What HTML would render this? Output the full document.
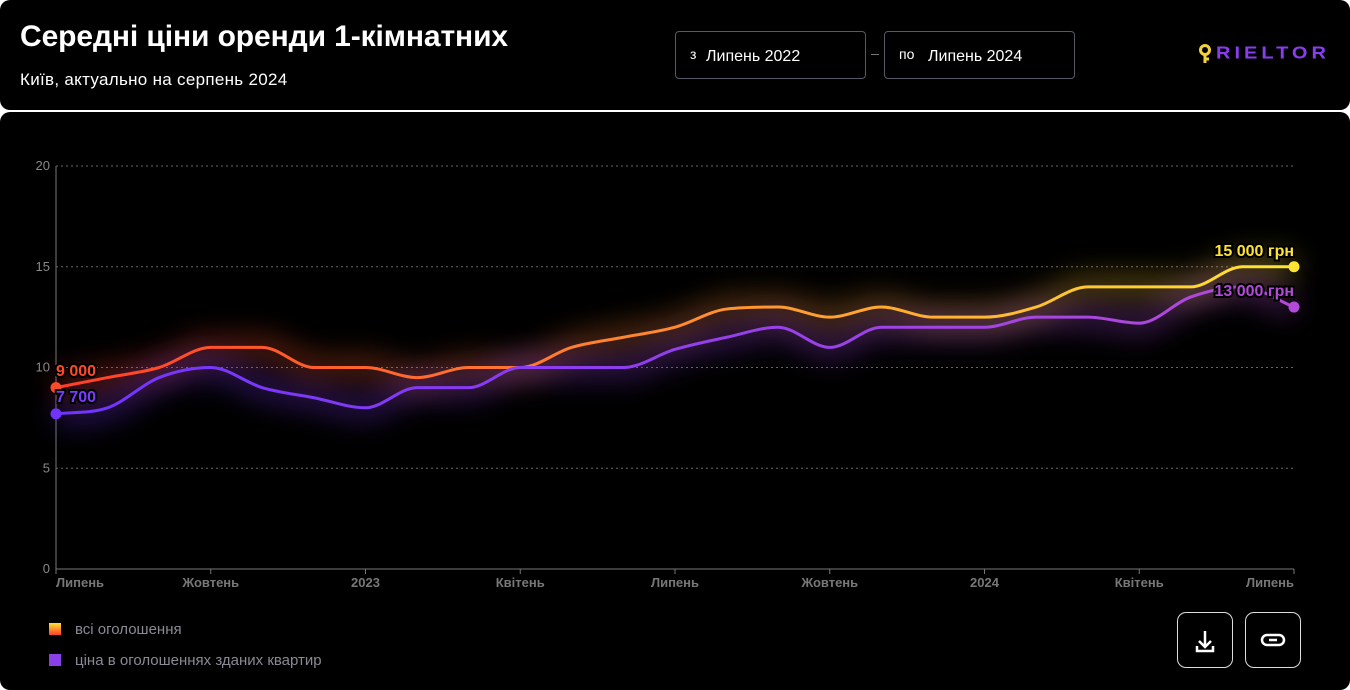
<!DOCTYPE html>
<html><head><meta charset="utf-8"><style>
html,body{margin:0;padding:0;background:#fff;width:1350px;height:690px;overflow:hidden;font-family:"Liberation Sans",sans-serif}
.top{position:absolute;left:0;top:0;width:1350px;height:110px;background:#000;border-radius:10px}
.bot{position:absolute;left:0;top:112px;width:1350px;height:578px;background:#000;border-radius:10px}
h1{position:absolute;left:20px;top:20px;margin:0;color:#fff;font-size:30px;font-weight:bold;letter-spacing:-0.1px}
.sub{position:absolute;left:20px;top:70px;color:#fff;font-size:17px;letter-spacing:0.3px}
.box{position:absolute;top:31px;height:48px;border:1px solid #555a66;border-radius:4px;color:#fff;font-size:16px;box-sizing:border-box}
.box span{position:absolute;top:16px}
.box small{position:absolute;top:14px;font-size:14px}
.btn{position:absolute;top:612px;width:56px;height:56px;border:1px solid #ddd;border-radius:9px;box-sizing:border-box}
.lg{position:absolute;left:75px;color:#8a8a95;font-size:15px}
.sq{position:absolute;left:49px;width:12px;height:12px}
</style></head><body>
<div class="top"></div><div class="bot"></div>
<h1>Середні ціни оренди 1-кімнатних</h1>
<div class="sub">Київ, актуально на серпень 2024</div>
<div class="box" style="left:675px;width:191px"><small style="left:14px">з</small><span style="left:30px">Липень 2022</span></div>
<div style="position:absolute;left:871px;top:54px;width:8px;height:1px;background:#777"></div>
<div class="box" style="left:884px;width:191px"><small style="left:14px">по</small><span style="left:43px">Липень 2024</span></div>
<div style="position:absolute;left:1199px;top:44px;width:14px;height:22px">
<svg width="14" height="22"><circle cx="6" cy="6" r="4.5" fill="none" stroke="#f2d33a" stroke-width="3"/><path d="M6 10 L6 19 M6 15 L10 15" stroke="#f2d33a" stroke-width="3"/></svg></div>
<div style="position:absolute;left:1216px;top:43px;color:#8a3cf0;font-size:20px;font-weight:900;letter-spacing:4px;transform:scaleY(0.9);transform-origin:top left">RIELTOR</div>
<svg style="position:absolute;left:0;top:0" width="1350" height="690">
<defs>
<linearGradient id="go" x1="56" x2="1294" y1="0" y2="0" gradientUnits="userSpaceOnUse"><stop offset="0" stop-color="#ff3e2a"/><stop offset="0.5" stop-color="#ff8a30"/><stop offset="1" stop-color="#ffe533"/></linearGradient>
<linearGradient id="gp" x1="56" x2="1294" y1="0" y2="0" gradientUnits="userSpaceOnUse"><stop offset="0" stop-color="#7034ff"/><stop offset="1" stop-color="#b44ad8"/></linearGradient>
<filter id="bl" x="-10%" y="-50%" width="120%" height="200%"><feGaussianBlur stdDeviation="14"/></filter>
</defs>
<g id="grid" font-size="13" fill="#888" font-family="Liberation Sans"></g>
<g id="lines"></g>
</svg>
<div class="sq" style="top:623px;background:linear-gradient(#ffe533,#ff3e2a)"></div>
<div class="lg" style="top:621px">всі оголошення</div>
<div class="sq" style="top:654px;background:#8a40e8"></div>
<div class="lg" style="top:652px">ціна в оголошеннях зданих квартир</div>
<div class="btn" style="left:1177px"><svg width="54" height="54"><path d="M27 18 V34 M21 28 L27 34 L33 28 M19 33 V38 H35 V33" stroke="#fff" stroke-width="2.5" fill="none"/></svg></div>
<div class="btn" style="left:1245px"><svg width="54" height="54"><rect x="16" y="22" width="22" height="10" rx="5" fill="none" stroke="#fff" stroke-width="2.5"/><path d="M22 27 H32" stroke="#000" stroke-width="4"/><path d="M23 27 H31" stroke="#fff" stroke-width="2.5"/></svg></div>
<script>
const X0=56,X1=1294,Y0=569,PY=20.15,dx=(X1-X0)/24;
const y=v=>Y0-v*PY;
const o=[9,9.5,10,11,11,10,10,9.5,10,10,11,11.5,12,12.9,13,12.5,13,12.5,12.5,13,14,14,14,15,15];
const p=[7.7,8,9.5,10,9,8.5,8,9,9,10,10,10,10.9,11.5,12,11,12,12,12,12.5,12.5,12.2,13.5,14,13];
function path(d){const P=d.map((v,i)=>[X0+i*dx,y(v)]);const n=P.length;
const dl=[],m=[];for(let i=0;i<n-1;i++)dl.push((P[i+1][1]-P[i][1])/dx);
m[0]=dl[0];m[n-1]=dl[n-2];
for(let i=1;i<n-1;i++){m[i]=(dl[i-1]*dl[i]<=0)?0:(dl[i-1]+dl[i])/2;}
for(let i=0;i<n-1;i++){if(dl[i]==0){m[i]=0;m[i+1]=0;continue;}const a=m[i]/dl[i],b=m[i+1]/dl[i];const s=a*a+b*b;if(s>9){const t=3/Math.sqrt(s);m[i]=t*a*dl[i];m[i+1]=t*b*dl[i];}}
let s=`M${P[0][0]},${P[0][1]}`;
for(let i=0;i<n-1;i++){const h=dx/3;s+=` C${P[i][0]+h},${P[i][1]+m[i]*h} ${P[i+1][0]-h},${P[i+1][1]-m[i+1]*h} ${P[i+1][0]},${P[i+1][1]}`;}return s;}
let g='';
[0,5,10,15,20].forEach(v=>{g+=`<line x1="56" x2="1294" y1="${y(v)}" y2="${y(v)}" stroke="#666" stroke-dasharray="2,3"/><text x="50" y="${y(v)+4}" text-anchor="end">${v}</text>`});
g+=`<line x1="56" x2="56" y1="166" y2="569" stroke="#777"/><line x1="56" x2="1294" y1="569" y2="569" stroke="#777"/>`;
const L=[[0,'Липень','start'],[3,'Жовтень','middle'],[6,'2023','middle'],[9,'Квітень','middle'],[12,'Липень','middle'],[15,'Жовтень','middle'],[18,'2024','middle'],[21,'Квітень','middle'],[24,'Липень','end']];
L.forEach(([m,t,a])=>{const x=X0+m*dx;g+=`<line x1="${x}" x2="${x}" y1="569" y2="574" stroke="#777"/><text x="${x}" y="587" text-anchor="${a}" font-weight="bold" fill="#777">${t}</text>`});
document.getElementById('grid').innerHTML=g;
const po=path(o),pp=path(p);
let l=`<path d="${po}" stroke="url(#go)" stroke-width="22" fill="none" opacity="0.35" filter="url(#bl)"/>
<path d="${pp}" stroke="url(#gp)" stroke-width="22" fill="none" opacity="0.35" filter="url(#bl)"/>
<path d="${po}" stroke="url(#go)" stroke-width="3" fill="none"/>
<path d="${pp}" stroke="url(#gp)" stroke-width="3" fill="none"/>
<circle cx="56" cy="${y(9)}" r="5.5" fill="#ff4a2a"/><circle cx="56" cy="${y(7.7)}" r="5.5" fill="#7034ff"/>
<circle cx="1294" cy="${y(15)}" r="5.5" fill="#ffe533"/><circle cx="1294" cy="${y(13)}" r="5.5" fill="#b44ad8"/>
<g font-size="16" font-weight="bold" font-family="Liberation Sans" stroke="#000" stroke-width="4" paint-order="stroke">
<text x="56" y="376" fill="#ff4a2a">9 000</text><text x="56" y="402" fill="#7a3cff">7 700</text>
<text x="1294" y="256" text-anchor="end" fill="#ffe533">15 000 грн</text><text x="1294" y="296" text-anchor="end" fill="#b44ad8">13 000 грн</text></g>`;
document.getElementById('lines').innerHTML=l;
</script>
</body></html>
